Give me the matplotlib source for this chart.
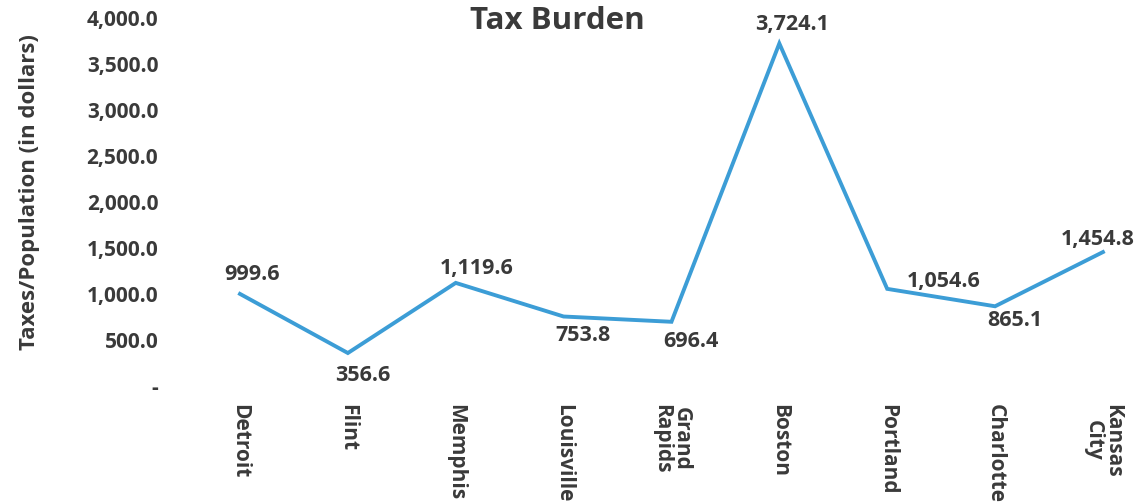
import matplotlib.pyplot as plt
from matplotlib.ticker import FuncFormatter

# data
cities = ['Detroit', 'Flint', 'Memphis', 'Louisville', 'Grand\nRapids',
          'Boston', 'Portland', 'Charlotte', 'Kansas\nCity']
tax_burden = [999.6, 356.6, 1119.6, 753.8, 696.4, 3724.1, 1054.6, 865.1, 1454.8]

# label offsets in points (dx, dy)
label_offsets = [(9, 14), (11, -16), (15, 10), (14, -14), (14, -14),
                 (9, 14), (41, 5), (14, -10), (-4, 9)]

txt = '#3a3a3a'
line_col = '#3c9dd6'
plt.rcParams['font.family'] = ['Open Sans', 'DejaVu Sans']

fig = plt.figure(figsize=(11.45, 5.03), dpi=100)
ax = fig.add_axes([0.1625, 0.233, 0.8375, 0.731])

x = list(range(len(cities)))
ax.plot(x, tax_burden, color=line_col, linewidth=2.8, solid_joinstyle='miter')

for xi, v, (dx, dy) in zip(x, tax_burden, label_offsets):
    ax.annotate(f'{v:,.1f}', (xi, v), xytext=(dx, dy), textcoords='offset points',
                ha='center', va='center', fontsize=15.5, fontweight='bold', color=txt)

ax.set_xlim(-0.5, 8.39)
ax.set_ylim(0, 4000)
ax.set_yticks([0, 500, 1000, 1500, 2000, 2500, 3000, 3500, 4000])
ax.yaxis.set_major_formatter(FuncFormatter(lambda v, p: '-' if v == 0 else f'{v:,.1f}'))
ax.set_xticks(x)
ax.set_xticklabels(cities, rotation=270, ha='center', va='top')

ax.tick_params(axis='y', length=0, pad=20, labelsize=15, labelcolor=txt)
ax.tick_params(axis='x', length=0, pad=13, labelsize=15, labelcolor=txt)
for lab in ax.get_xticklabels() + ax.get_yticklabels():
    lab.set_fontweight('bold')
    lab.set_linespacing(0.95)

for s in ax.spines.values():
    s.set_visible(False)

ax.set_ylabel('Taxes/Population (in dollars)', fontsize=16, fontweight='bold',
              color=txt)
ax.yaxis.set_label_coords(-0.152, 0.527)
fig.text(0.4865, 0.958, 'Tax Burden', ha='center', va='center', fontsize=22.5,
         fontweight='bold', color=txt)

fig.savefig('out.png', dpi=100)
